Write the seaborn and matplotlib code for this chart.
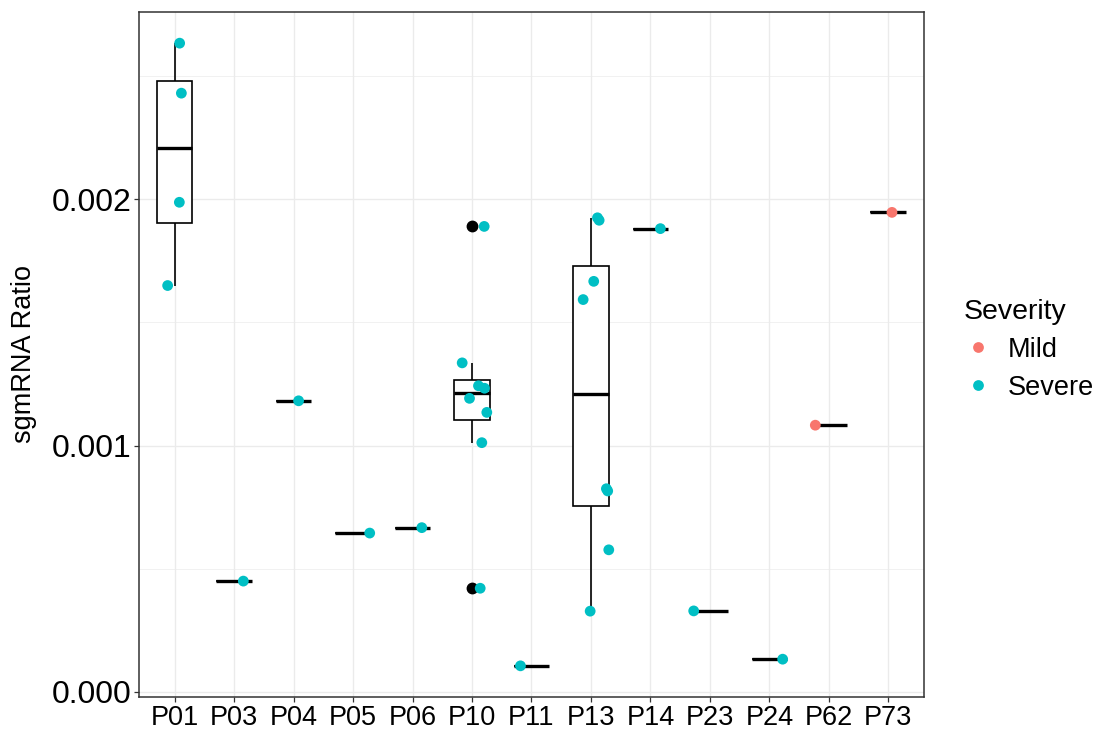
import numpy as np
import pandas as pd
import seaborn as sns
import matplotlib.pyplot as plt
from matplotlib.ticker import MultipleLocator, FormatStrFormatter

# patients in axis order
patients = ["P01", "P03", "P04", "P05", "P06", "P10", "P11",
            "P13", "P14", "P23", "P24", "P62", "P73"]

# one entry per measured sample
patient = (["P01"] * 4 + ["P03", "P04", "P05", "P06"] + ["P10"] * 8 + ["P11"]
           + ["P13"] * 8 + ["P14", "P23", "P24", "P62", "P73"])
ratio = [0.002634, 0.002431, 0.001988, 0.001650,
         0.000450, 0.001182, 0.000645, 0.000667,
         0.001890, 0.001336, 0.001243, 0.001233, 0.001192, 0.001135, 0.001012, 0.000421,
         0.000106,
         0.001925, 0.001915, 0.001667, 0.001593, 0.000825, 0.000816, 0.000577, 0.000328,
         0.001881, 0.000329, 0.000133, 0.001083, 0.001947]
severity = ["Severe"] * 28 + ["Mild", "Mild"]
# horizontal jitter of each dot, in category widths
jitter = [0.084, 0.113, 0.079, -0.118,
          0.155, 0.084, 0.28, 0.156,
          0.205, -0.165, 0.109, 0.21, -0.042, 0.249, 0.165, 0.138,
          -0.185,
          0.11, 0.138, 0.047, -0.131, 0.26, 0.282, 0.3, -0.013,
          0.168, -0.272, 0.224, -0.227, 0.062]

df = pd.DataFrame({"Patient": patient, "Ratio": ratio, "Severity": severity, "jit": jitter})
df["xpos"] = df["Patient"].map({p: i for i, p in enumerate(patients)}) + df["jit"]

sns.set_theme(style="white")
plt.rcParams["font.family"] = ["Liberation Sans", "DejaVu Sans"]
plt.rcParams["text.color"] = "black"
plt.rcParams["axes.labelcolor"] = "black"

fig = plt.figure(figsize=(11.1, 7.38), dpi=100)
ax = fig.add_axes([0.1252, 0.0556, 0.7072, 0.9281])

sns.boxplot(data=df, x="Patient", y="Ratio", order=patients, width=0.6,
            color="white", linecolor="black", linewidth=1.2, saturation=1,
            showcaps=False, fliersize=7.5,
            flierprops=dict(marker="o", markerfacecolor="black", markeredgecolor="black"),
            medianprops=dict(linewidth=2.4), ax=ax, zorder=2)

sns.scatterplot(data=df, x="xpos", y="Ratio", hue="Severity", hue_order=["Mild", "Severe"],
                palette={"Mild": "#F8766D", "Severe": "#00BFC4"}, s=60, linewidth=0,
                ax=ax, zorder=3)

lo, hi = df["Ratio"].min(), df["Ratio"].max()
pad = (hi - lo) * 0.05
ax.set_ylim(lo - pad, hi + pad)
ax.set_xlim(-0.6, len(patients) - 0.4)

ax.yaxis.set_major_locator(MultipleLocator(0.001))
ax.yaxis.set_minor_locator(MultipleLocator(0.0005))
ax.yaxis.set_major_formatter(FormatStrFormatter("%.3f"))
ax.set_xticks(range(len(patients)))
ax.set_xticklabels(patients)

ax.grid(which="major", color="#EBEBEB", linewidth=0.95, zorder=0)
ax.grid(which="minor", axis="y", color="#EBEBEB", linewidth=0.5, zorder=0)
ax.set_axisbelow(True)
for sp in ax.spines.values():
    sp.set_color("#333333")
    sp.set_linewidth(1.1)

ax.tick_params(axis="both", which="major", length=3.6, width=0.9, color="#333333",
               labelcolor="black", pad=2, left=True, bottom=True)
ax.tick_params(axis="y", labelsize=23)
ax.tick_params(axis="x", labelsize=19.5)
ax.tick_params(which="minor", length=0)

ax.set_xlabel("")
ax.set_ylabel("sgmRNA Ratio", fontsize=19.5, labelpad=10)

handles, labels = ax.get_legend_handles_labels()
ax.legend(handles, labels, title="Severity", loc="center left",
          bbox_to_anchor=(1.02, 0.507), frameon=False, fontsize=19.5,
          title_fontsize=20.5, markerscale=1.0, handlelength=1.0,
          handletextpad=0.6, labelspacing=0.45, alignment="left")

fig.savefig("out.png", dpi=100)
